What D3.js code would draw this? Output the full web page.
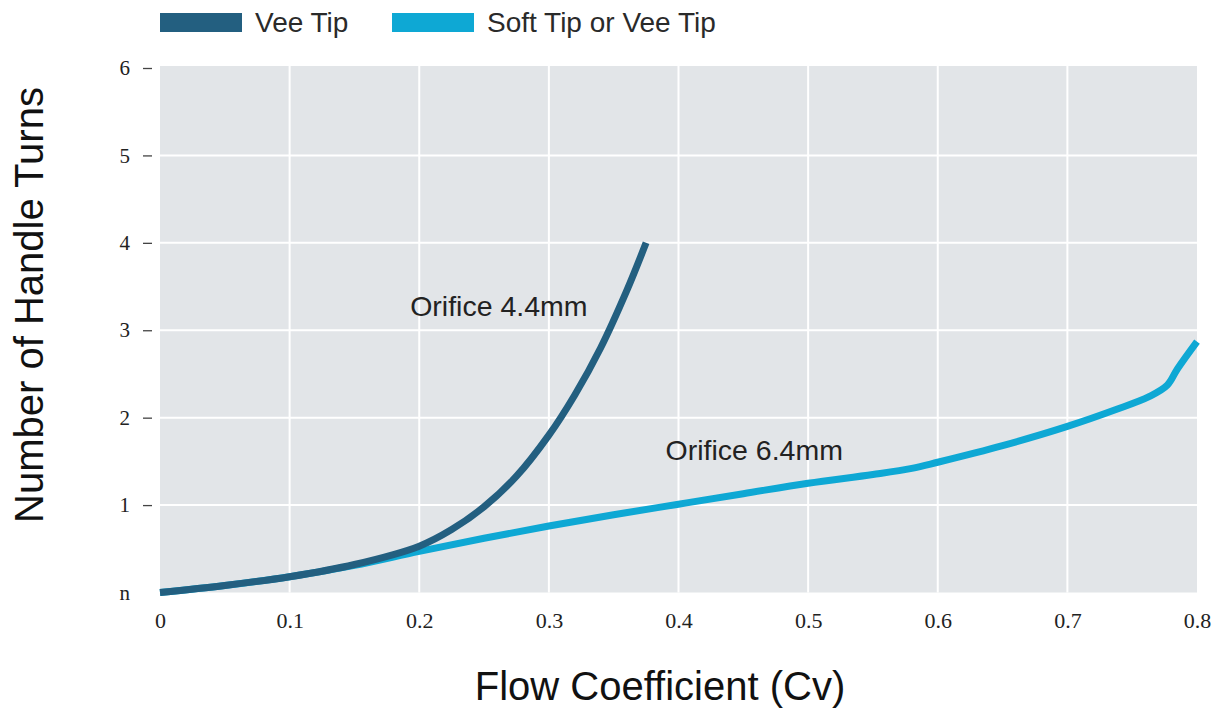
<!DOCTYPE html>
<html>
<head>
<meta charset="utf-8">
<script src="https://cdn.jsdelivr.net/npm/d3@7"></script>
<style>
  html, body { margin: 0; padding: 0; background: #ffffff; }
  svg { display: block; }
</style>
</head>
<body>
<svg id="chart" width="1226" height="711"></svg>
<script>
// ---- data ----
const xTicks = [0, 0.1, 0.2, 0.3, 0.4, 0.5, 0.6, 0.7, 0.8];
const xTickLabels = ["0", "0.1", "0.2", "0.3", "0.4", "0.5", "0.6", "0.7", "0.8"];
const yTicks = [0, 1, 2, 3, 4, 5, 6];
const yTickLabels = ["n", "1", "2", "3", "4", "5", "6"];

const seriesNames = ["Vee Tip", "Soft Tip or Vee Tip"];
const seriesColors = ["#235f80", "#0ea8d4"];

// Vee Tip, Orifice 4.4mm
const veeCv    = [0, 0.05, 0.1, 0.15, 0.2, 0.225, 0.25, 0.275, 0.3, 0.32, 0.34, 0.36, 0.375];
const veeTurns = [0, 0.08, 0.18, 0.32, 0.53, 0.72, 0.98, 1.33, 1.8, 2.26, 2.8, 3.45, 4.0];

// Soft Tip or Vee Tip, Orifice 6.4mm
const softCv    = [0, 0.05, 0.1, 0.15, 0.2, 0.25, 0.3, 0.35, 0.4, 0.45, 0.5, 0.55, 0.58, 0.6, 0.65, 0.7, 0.737, 0.763, 0.777, 0.785, 0.8];
const softTurns = [0, 0.08, 0.18, 0.31, 0.47, 0.62, 0.76, 0.89, 1.01, 1.13, 1.25, 1.35, 1.42, 1.49, 1.68, 1.9, 2.09, 2.24, 2.37, 2.56, 2.87];

const annotations = [
  { text: "Orifice 4.4mm", cv: 0.193, turns: 3.16 },
  { text: "Orifice 6.4mm", cv: 0.39, turns: 1.52 }
];

// ---- layout ----
const svg = d3.select("#chart");
const plot = { left: 160, right: 1197, top: 68, bottom: 592.5 };

const x = d3.scaleLinear().domain([0, 0.8]).range([plot.left, plot.right]);
const y = d3.scaleLinear().domain([0, 6]).range([plot.bottom, plot.top]);

// background
svg.append("rect")
  .attr("x", x(0)).attr("y", y(6) - 2)
  .attr("width", x(0.8) - x(0)).attr("height", y(0) - y(6) + 2)
  .attr("fill", "#e2e5e8");

// grid
const grid = svg.append("g");
grid.selectAll("line.v").data(xTicks.slice(1, -1)).join("line")
  .attr("x1", d => x(d)).attr("x2", d => x(d))
  .attr("y1", y(6) - 2).attr("y2", y(0))
  .attr("stroke", "#ffffff").attr("stroke-width", 2);
grid.selectAll("line.h").data(yTicks.slice(1, -1)).join("line")
  .attr("x1", x(0)).attr("x2", x(0.8))
  .attr("y1", d => y(d)).attr("y2", d => y(d))
  .attr("stroke", "#ffffff").attr("stroke-width", 2);

// y axis
const yAxis = d3.axisLeft(y).tickValues(yTicks)
  .tickFormat((d, i) => yTickLabels[i]).tickSize(9).tickPadding(13);
const gy = svg.append("g").attr("transform", `translate(152,0)`).call(yAxis);
gy.select(".domain").remove();
gy.selectAll(".tick line").attr("stroke", "#444").attr("stroke-width", 1.3)
  .attr("opacity", (d) => d === 0 ? 0 : 1);
gy.selectAll(".tick text")
  .attr("font-family", "'Liberation Serif', 'Times New Roman', serif")
  .attr("font-size", 21).attr("fill", "#222");

// x axis
const xAxis = d3.axisBottom(x).tickValues(xTicks)
  .tickFormat((d, i) => xTickLabels[i]).tickSize(0).tickPadding(20);
const gx = svg.append("g").attr("transform", `translate(0,${plot.bottom})`).call(xAxis);
gx.select(".domain").remove();
gx.selectAll(".tick text")
  .attr("font-family", "'Liberation Serif', 'Times New Roman', serif")
  .attr("font-size", 22).attr("fill", "#222");

// lines
const line = d3.line().x(d => x(d[0])).y(d => y(d[1])).curve(d3.curveCatmullRom.alpha(0.5));
const softData = softCv.map((c, i) => [c, softTurns[i]]);
const veeData = veeCv.map((c, i) => [c, veeTurns[i]]);

svg.append("path").datum(softData).attr("d", line)
  .attr("fill", "none").attr("stroke", seriesColors[1]).attr("stroke-width", 7);
svg.append("path").datum(veeData).attr("d", line)
  .attr("fill", "none").attr("stroke", seriesColors[0]).attr("stroke-width", 7);

// annotations
svg.selectAll("text.ann").data(annotations).join("text")
  .attr("class", "ann")
  .attr("x", d => x(d.cv)).attr("y", d => y(d.turns))
  .attr("font-family", "'Liberation Sans', Arial, sans-serif")
  .attr("font-size", 28.5).attr("fill", "#222")
  .text(d => d.text);

// legend
const legendX = [160, 392];
const lg = svg.append("g");
seriesNames.forEach((name, i) => {
  lg.append("rect").attr("x", legendX[i]).attr("y", 13)
    .attr("width", 82).attr("height", 19).attr("fill", seriesColors[i]);
  lg.append("text").attr("x", legendX[i] + 95).attr("y", 32)
    .attr("font-family", "'Liberation Sans', Arial, sans-serif")
    .attr("font-size", 28).attr("fill", "#2a2a2a").text(name);
});

// axis titles
svg.append("text")
  .attr("transform", "translate(43,305) rotate(-90)")
  .attr("text-anchor", "middle")
  .attr("font-family", "'Liberation Sans', Arial, sans-serif")
  .attr("font-size", 40).attr("fill", "#111")
  .text("Number of Handle Turns");

svg.append("text")
  .attr("x", 660).attr("y", 700)
  .attr("text-anchor", "middle")
  .attr("font-family", "'Liberation Sans', Arial, sans-serif")
  .attr("font-size", 40).attr("fill", "#111")
  .text("Flow Coefficient (Cv)");
</script>
</body>
</html>
